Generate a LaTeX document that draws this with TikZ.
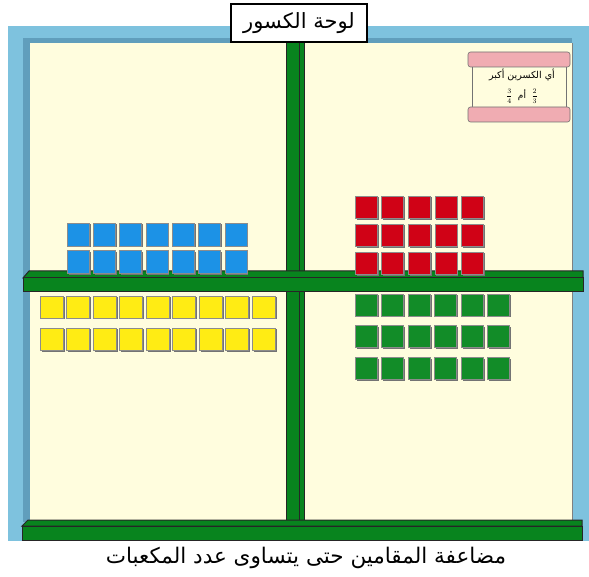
\documentclass[tikz,border=0pt]{standalone}
\usepackage{fontspec}
\usepackage{amsmath}
\newfontfamily\arabicfont[Script=Arabic]{DejaVu Sans}
\TeXXeTstate=1
\usetikzlibrary{positioning}

\definecolor{frameblue}{RGB}{126,194,222}
\definecolor{framedark}{RGB}{96,158,188}
\definecolor{boardcream}{RGB}{255,253,222}
\definecolor{shelfgreen}{RGB}{8,132,30}
\definecolor{cubeblue}{RGB}{28,146,230}
\definecolor{cubeyellow}{RGB}{255,236,20}
\definecolor{cubered}{RGB}{208,2,22}
\definecolor{cubegreen}{RGB}{18,140,40}
\definecolor{scrollpink}{RGB}{240,172,178}

\begin{document}
\begin{tikzpicture}[
        x=1pt, y=-1pt,
        wood/.style={fill=shelfgreen, draw=black!85, line width=1pt},
        cubeshade/.style={fill=black!55},
        cube/.style={draw=black!45, line width=0.4pt},
        band/.style={fill=scrollpink, draw=black!55, line width=0.6pt, rounded corners=2.5pt},
        sign/.style={rectangle, draw=black, line width=1.6pt, fill=white, minimum width=136, minimum height=38, inner sep=0pt, font=\arabicfont\fontsize{21}{24}\selectfont},
        caption/.style={font=\arabicfont\fontsize{21.5}{24}\selectfont, inner sep=0pt}
    ]
    \useasboundingbox (0,0) rectangle (589,577);

    % board frame
    \fill[frameblue] (8,26) rectangle (589,541);
    \fill[framedark] (23,38) rectangle (572,522);
    \fill[boardcream] (30,43) rectangle (572,522);
    \draw[black!50, line width=0.6pt] (572,43) -- (572,522);

    % pole
    \draw[wood] (286,40) rectangle (304,524);
    \draw[black!85, line width=0.6pt] (299,40) -- (299,524);

    % shelves
    \draw[wood] (23,278) -- (29,271) -- (583,271) -- (583,278) -- cycle;
    \draw[wood] (23,278) rectangle (583,292);
    \draw[wood] (22,526) -- (28,520) -- (582,520) -- (582,526) -- cycle;
    \draw[wood] (22,526) rectangle (582,540);

    % blue cubes
    \foreach \i in {0,...,6} {
        \foreach \j in {0,1} {
            \fill[cubeshade] (67+26.3*\i+1.5,223+27.5*\j+1.5) rectangle ++(22,23);
            \draw[cube, fill=cubeblue] (67+26.3*\i,223+27.5*\j) rectangle ++(22,23);
        }
    }
    % yellow cubes
    \foreach \i in {0,...,8} {
        \foreach \j in {0,1} {
            \fill[cubeshade] (40+26.5*\i+1.5,296+32*\j+1.5) rectangle ++(23,22);
            \draw[cube, fill=cubeyellow] (40+26.5*\i,296+32*\j) rectangle ++(23,22);
        }
    }
    % red cubes
    \foreach \i in {0,...,4} {
        \foreach \j in {0,1,2} {
            \fill[cubeshade] (355+26.6*\i+1.5,196+28*\j+1.5) rectangle ++(22,22.5);
            \draw[cube, fill=cubered] (355+26.6*\i,196+28*\j) rectangle ++(22,22.5);
        }
    }
    % green cubes
    \foreach \i in {0,...,5} {
        \foreach \j in {0,1,2} {
            \fill[cubeshade] (355+26.5*\i+1.5,294+31.5*\j+1.5) rectangle ++(22,22);
            \draw[cube, fill=cubegreen] (355+26.5*\i,294+31.5*\j) rectangle ++(22,22);
        }
    }

    % title sign
    \node[sign] (title) at (299,23) {\beginR لوحة الكسور\endR};

    % question scroll
    \fill[boardcream] (472,62) rectangle (566,114);
    \draw[black!55, line width=0.6pt] (472,62) -- (472,114) (566,62) -- (566,114);
    \draw[band] (468,52) rectangle (570,67);
    \draw[band] (468,107) rectangle (570,122);
    \node[font=\arabicfont\fontsize{9.5}{11}\selectfont, inner sep=0pt] (question) at (522,75) {\beginR أي الكسرين أكبر\endR};
    \node[font=\fontsize{7}{9}\selectfont, inner sep=0pt] (fracs) at (522,96) {$\dfrac{3}{4}$\ \ {\arabicfont\fontsize{9}{11}\selectfont\beginR أم\endR}\ \ $\dfrac{2}{3}$};

    % caption
    \node[caption] (note) at (306,558) {\beginR مضاعفة المقامين حتى يتساوى عدد المكعبات\endR};
\end{tikzpicture}
\end{document}
